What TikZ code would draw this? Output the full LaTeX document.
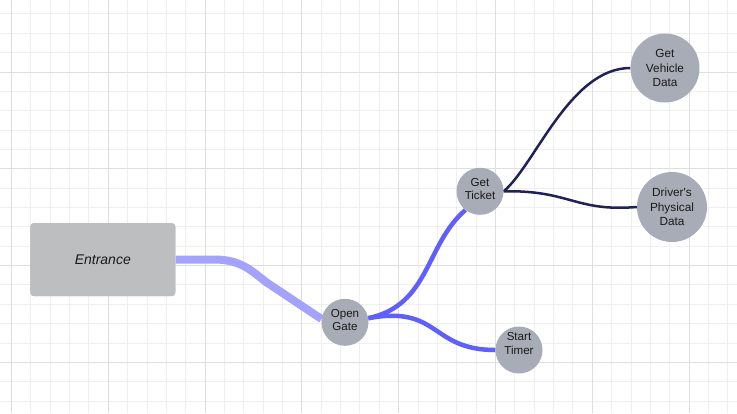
\documentclass[tikz,border=0pt]{standalone}
\usepackage{fontspec}
\setmainfont{Liberation Sans}
\definecolor{gridminor}{HTML}{EFEFEF}
\definecolor{gridmajor}{HTML}{DEDEDE}
\definecolor{boxfill}{HTML}{BDBEC0}
\definecolor{circfill}{HTML}{A8ACB6}
\definecolor{lightlink}{HTML}{A3A3FE}
\definecolor{midlink}{HTML}{5F5FFC}
\definecolor{darklink}{HTML}{1F2157}
\definecolor{txt}{HTML}{1A1A1A}
\begin{document}
\begin{tikzpicture}[x=1pt,y=-1pt,
  circnode/.style={circle,fill=circfill,inner sep=0pt,align=center,text=txt,
    font=\fontsize{11.8}{14.5}\selectfont},
  smalltext/.style={align=center,text=txt,inner sep=0pt,yshift=2.5pt,
    font=\fontsize{11.6}{12.8}\selectfont},
  rootbox/.style={rectangle,rounded corners=3.5pt,fill=boxfill,minimum width=145pt,
    minimum height=73pt,text=txt,font=\fontsize{14}{16}\selectfont\itshape},
  thicklink/.style={draw=lightlink,line width=8pt},
  midlinkst/.style={draw=midlink,line width=4.5pt},
  thinlink/.style={draw=darklink,line width=2.5pt}]
\useasboundingbox (0,0) rectangle (737,413);
\fill[white] (0,0) rectangle (737,413);
% grid
\foreach \i in {0,...,37}{
  \pgfmathsetmacro\xx{11.5+19.36*\i}
  \draw[gridminor,line width=1pt] (\xx,0) -- (\xx,413);
}
\foreach \j in {-3,...,17}{
  \pgfmathsetmacro\yy{72+19.36*\j}
  \draw[gridminor,line width=1pt] (0,\yy) -- (737,\yy);
}
\foreach \i in {0,5,...,35}{
  \pgfmathsetmacro\xx{11.5+19.36*\i}
  \draw[gridmajor,line width=1pt] (\xx,0) -- (\xx,413);
}
\foreach \j in {0,5,10,15}{
  \pgfmathsetmacro\yy{72+19.36*\j}
  \draw[gridmajor,line width=1pt] (0,\yy) -- (737,\yy);
}
% node placement (named, for the connectors)
\path (102.8,259.6) node[rootbox] (ent) {}
      (345,322.3) node[circle,minimum size=47pt,inner sep=0pt] (og) {}
      (480,191.3) node[circle,minimum size=47pt,inner sep=0pt] (gt) {}
      (519,350) node[circle,minimum size=47pt,inner sep=0pt] (st) {}
      (665,68) node[circle,minimum size=69pt,inner sep=0pt] (gv) {}
      (672,207) node[circle,minimum size=70pt,inner sep=0pt] (dp) {};
% connectors
\draw[thicklink] (ent.east) -- ++(40,0) .. controls +(25,0) and (252,271) .. (266,282) -- (og.172);
\draw[midlinkst] (og.10) .. controls (430,305) and (425,245) .. (gt.232);
\draw[midlinkst] (og.10) .. controls (440,305) and (430,350) .. (st.180);
\draw[thinlink] (gt.0) .. controls (535,165) and (570,68) .. (gv.180);
\draw[thinlink] (gt.0) .. controls (570,190) and (575,212) .. (dp.180);
% nodes drawn on top of connectors
\node[rootbox] at (ent) {Entrance};
\node[circnode,minimum size=47pt,label={[smalltext]center:{Open\\Gate}}] at (og) {};
\node[circnode,minimum size=47pt,label={[smalltext]center:{Get\\Ticket}}] at (gt) {};
\node[circnode,minimum size=47pt,label={[smalltext,yshift=3.5pt,font=\fontsize{11.6}{14}\selectfont]center:{Start\\Timer}}] at (st) {};
\node[circnode,minimum size=69pt] at (gv) {Get\\Vehicle\\Data};
\node[circnode,minimum size=70pt] at (dp) {Driver\textquotesingle s\\Physical\\Data};
\end{tikzpicture}
\end{document}
